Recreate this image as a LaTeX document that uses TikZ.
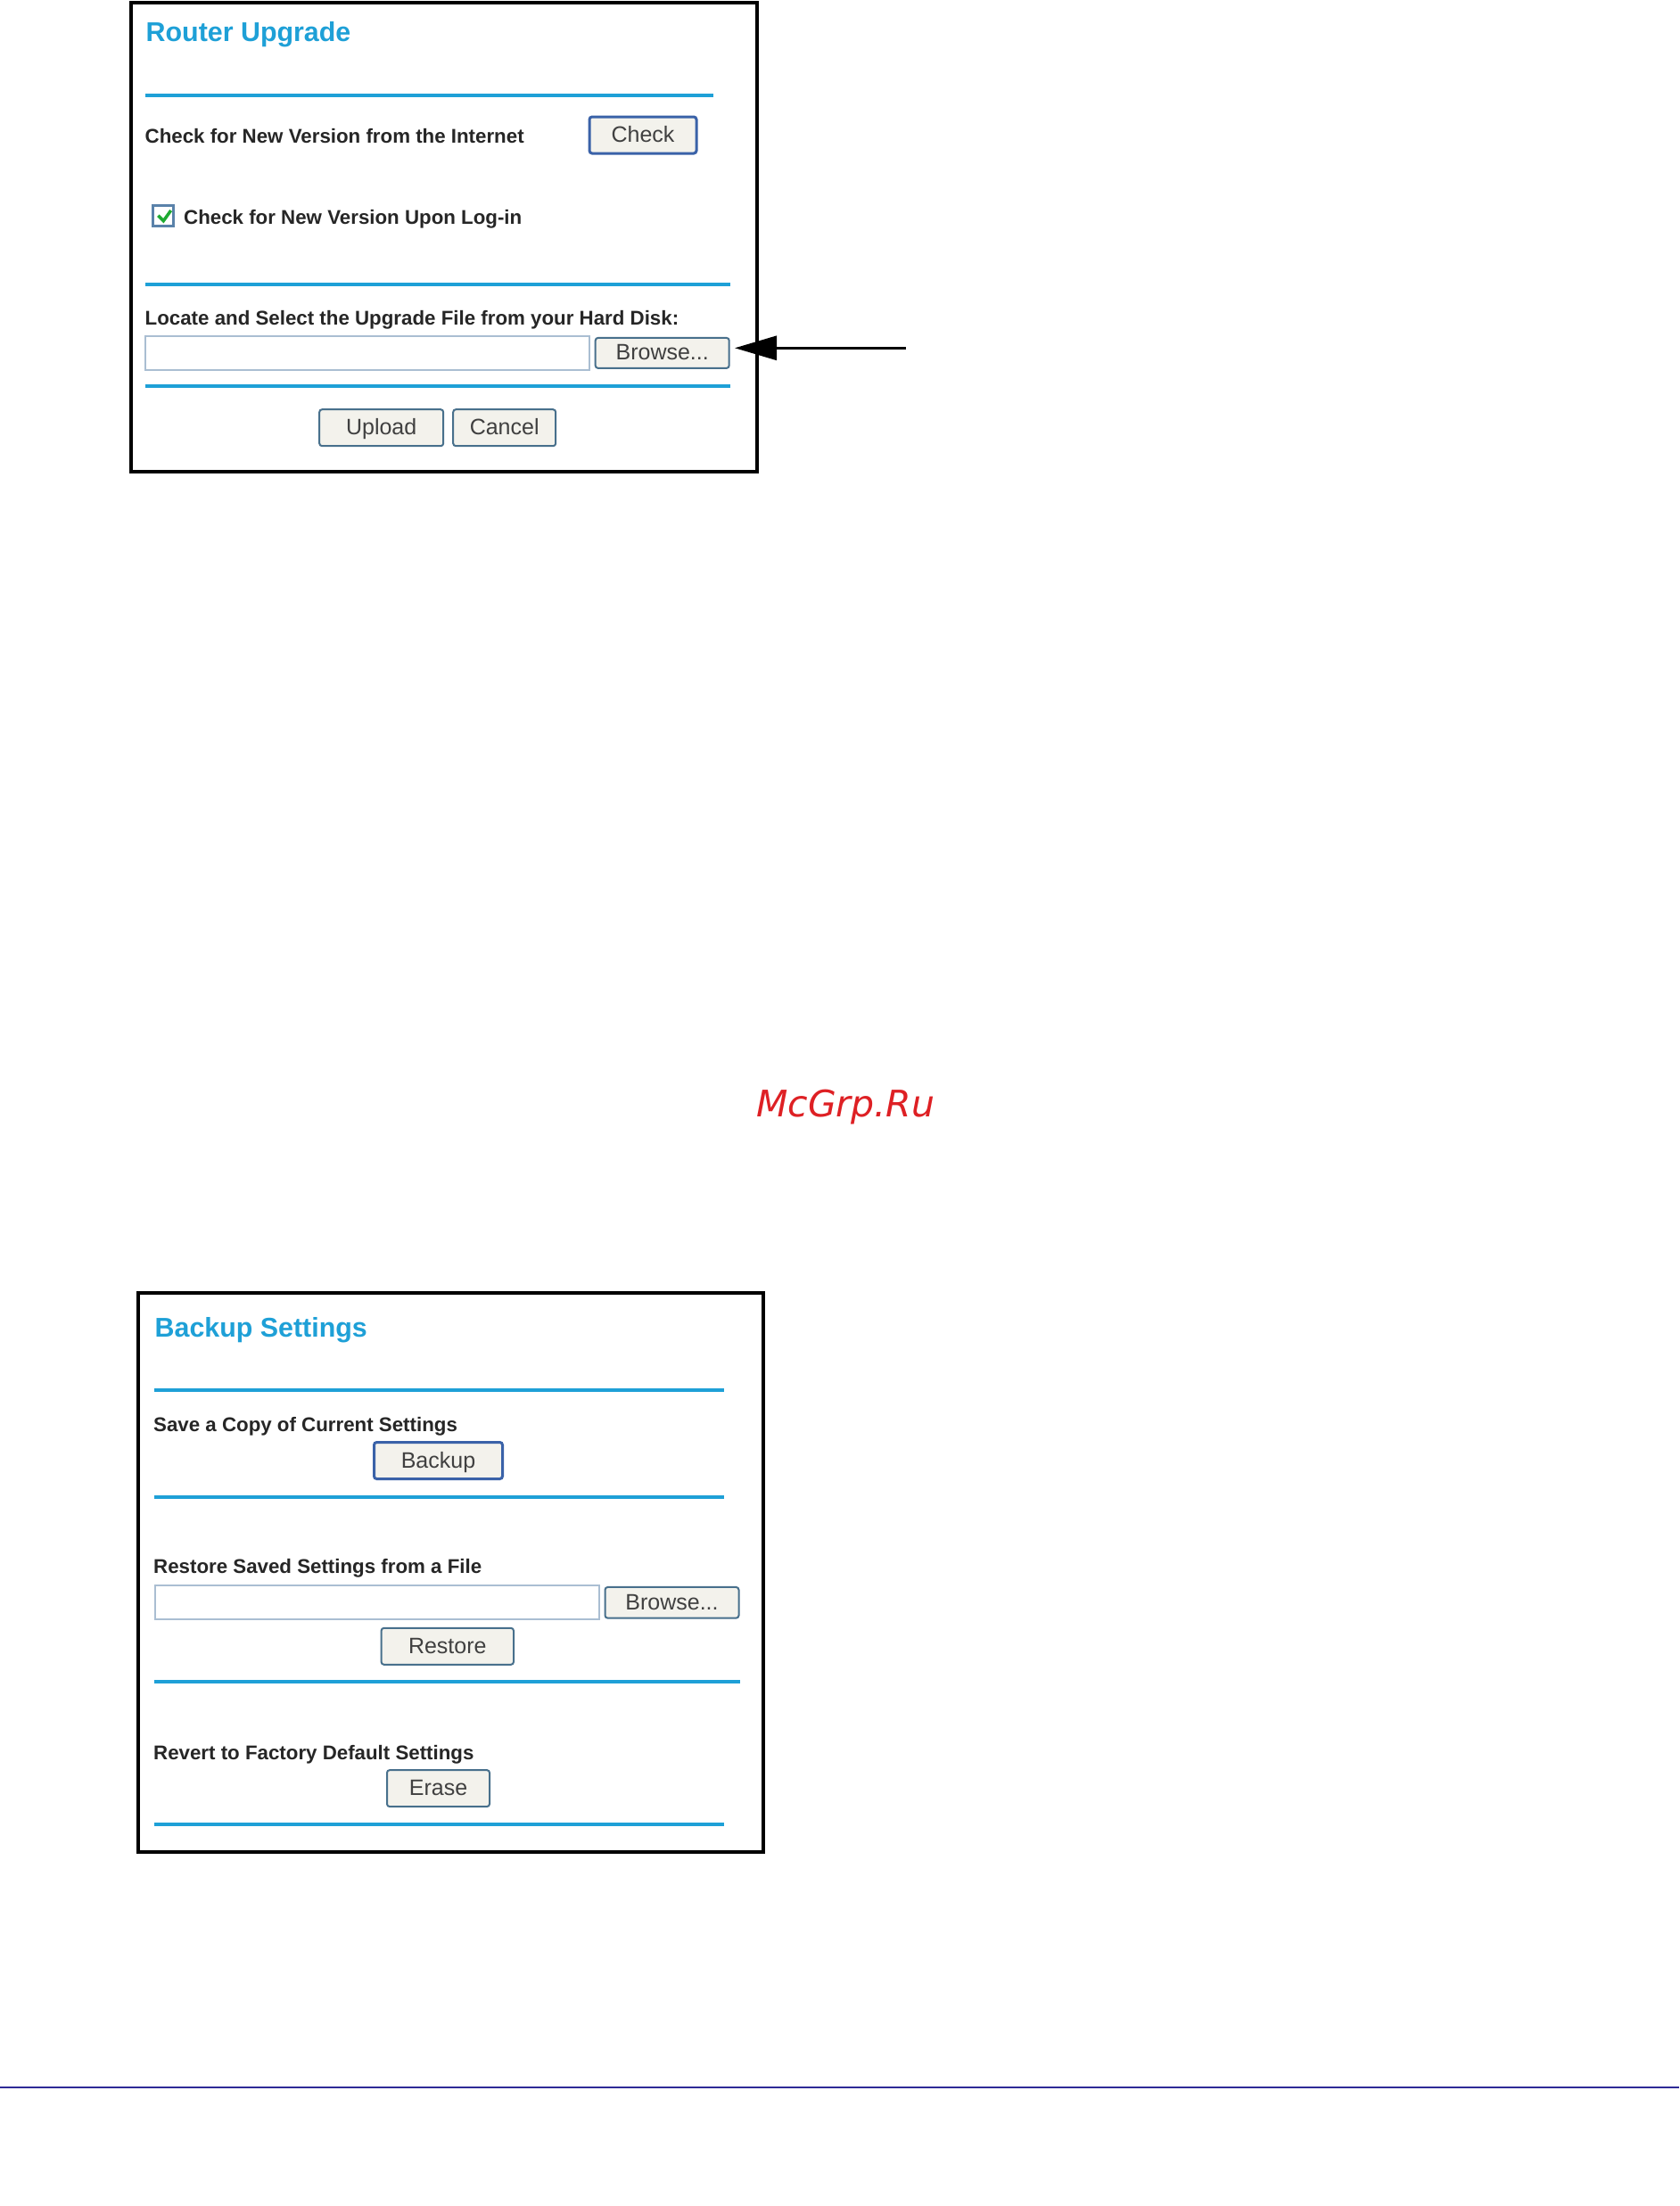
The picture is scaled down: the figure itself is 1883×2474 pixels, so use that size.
\documentclass[tikz,border=0pt]{standalone}
\usepackage{fontspec}
\setmainfont{Liberation Sans}
\newfontfamily\markfont{DejaVu Sans}
\usepackage{xcolor}
\usetikzlibrary{arrows.meta}
\definecolor{headblue}{RGB}{30,160,215}
\definecolor{btnedge}{RGB}{72,112,140}
\definecolor{defedge}{RGB}{58,98,168}
\definecolor{btnfill}{RGB}{243,242,236}
\definecolor{boxedge}{RGB}{170,190,210}
\definecolor{tickedge}{RGB}{90,130,170}
\definecolor{tickgreen}{RGB}{30,170,50}
\definecolor{footline}{RGB}{46,42,150}
\definecolor{markred}{RGB}{222,32,36}
\tikzset{
	frame/.style={draw=black, line width=4pt, fill=white, inner sep=0pt, anchor=north west},
	heading/.style={anchor=base west, inner sep=0pt, text=headblue, font=\fontsize{30.4}{36}\bfseries\selectfont},
	rulename/.style={draw=headblue, line width=4pt},
	caption/.style={anchor=base west, inner sep=0pt, text=black!85, font=\fontsize{22.3}{26}\bfseries\selectfont},
	btn/.style={rectangle, rounded corners=3pt, draw=btnedge, line width=2pt, fill=btnfill, inner sep=0pt,
		text=black!75, text height=18pt, text depth=2pt, font=\fontsize{25}{30}\selectfont},
	defbtn/.style={btn, draw=defedge, line width=3pt},
	filebox/.style={rectangle, draw=boxedge, line width=2pt, fill=white, inner sep=0pt},
}
\begin{document}
\begin{tikzpicture}[>=latex, x=1pt, y=-1pt, inner sep=0pt]
			\useasboundingbox (0,0) rectangle (1883,2474);
			\fill[white] (0,0) rectangle (1883,2474);
			
			% upgrade panel
			\node[frame, minimum width=702pt, minimum height=526.5pt](panelA) at (144.7,0.8) {};
			\node[heading](titleA) at (163.5,46) {Router Upgrade};
			\node[caption](checkText) at (162.5,160) {Check for New Version from the Internet};
			\node[defbtn, minimum width=120pt, minimum height=41pt](checkBtn) at (721,151.5) {Check};
			\node[rectangle, draw=tickedge, line width=3pt, fill=white, minimum size=23pt](tickBox) at (182.5,242) {};
			\node[caption](loginText) at (206,251.7) {Check for New Version Upon Log-in};
			\node[caption](locateText) at (162.5,364) {Locate and Select the Upgrade File from your Hard Disk:};
			\node[filebox, minimum width=498.5pt, minimum height=38pt](fileA) at (412,396) {};
			\node[btn, minimum width=150pt, minimum height=34pt](browseA) at (742.7,395.9) {Browse...};
			\node[btn, minimum width=139pt, minimum height=41pt](uploadBtn) at (427.7,479.7) {Upload};
			\node[btn, minimum width=115pt, minimum height=41pt](cancelBtn) at (565.7,479.7) {Cancel};
			
			\draw[tickgreen, line width=3.5pt](177.3,241.7) -- (183.3,247.7) -- (191.7,236);
			\draw[rulename](163,107.3) -- (800,107.3);
			\draw[rulename](163,318.8) -- (819,318.8);
			\draw[rulename](163,433.3) -- (819,433.3);
			
			% callout arrow
			\coordinate(arrowEnd) at (1016,390.3);
			\draw[{Triangle[length=47pt, width=27pt]}-, line width=3pt, shorten <=5.3pt](browseA.east |- arrowEnd) -- (arrowEnd);
			
			% watermark
			\node[anchor=base west, text=markred, font=\markfont\itshape\fontsize{41}{44}\selectfont](mark) at (848,1252) {McGrp.Ru};
			
			% backup panel
			\node[frame, minimum width=701.5pt, minimum height=627.2pt](panelB) at (152.5,1447.8) {};
			\node[heading](titleB) at (173.5,1499.3) {Backup Settings};
			\node[caption](saveText) at (172,1605) {Save a Copy of Current Settings};
			\node[defbtn, minimum width=144pt, minimum height=41pt](backupBtn) at (491.5,1638) {Backup};
			\node[caption](restoreText) at (172,1764.7) {Restore Saved Settings from a File};
			\node[filebox, minimum width=498.6pt, minimum height=38pt](fileB) at (423,1797.4) {};
			\node[btn, minimum width=150pt, minimum height=34.7pt](browseB) at (753.5,1797.3) {Browse...};
			\node[btn, minimum width=148.4pt, minimum height=41pt](restoreBtn) at (501.8,1846.3) {Restore};
			\node[caption](revertText) at (172,1973) {Revert to Factory Default Settings};
			\node[btn, minimum width=115pt, minimum height=41pt](eraseBtn) at (491.5,2005.6) {Erase};
			
			\draw[rulename](173.3,1559.3) -- (811.7,1559.3);
			\draw[rulename](173.3,1679) -- (811.7,1679);
			\draw[rulename](173.3,1885.7) -- (830,1885.7);
			\draw[rulename](173.3,2046) -- (811.7,2046);
			
			% page footer
			\coordinate(footL) at (0,2340.7);
			\coordinate(footR) at (1883,2340.7);
			\draw[footline, line width=2pt](footL) -- (footR);
		\end{tikzpicture}
\end{document}
